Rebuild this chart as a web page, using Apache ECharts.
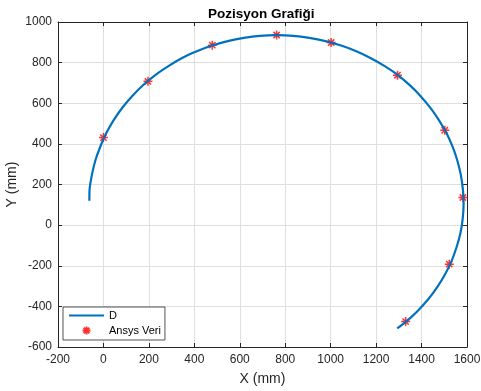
<!DOCTYPE html>
<html>
<head>
<meta charset="utf-8">
<script src="https://cdn.jsdelivr.net/npm/echarts@6/dist/echarts.min.js"></script>
<style>
  html, body { margin: 0; padding: 0; background: #fff; }
  #chart { width: 481px; height: 391px; }
</style>
</head>
<body>
<div id="chart"></div>
<script>
// curve "D" (x, y in mm)
const curveX = [-62, -61, -51, -36, -14, 12, 45, 83, 127, 175, 228, 286, 346, 411, 478, 547, 618, 689, 762,
  835, 906, 977, 1046, 1113, 1177, 1238, 1296, 1348, 1396, 1439, 1477, 1510, 1537, 1558, 1573, 1582, 1585,
  1581, 1571, 1554, 1532, 1503, 1469, 1430, 1385, 1336, 1293];
const curveY = [120, 175, 246, 317, 386, 452, 517, 578, 636, 690, 739, 783, 823, 856, 884, 906, 922, 932, 935,
  932, 922, 906, 884, 856, 822, 783, 739, 689, 635, 577, 516, 452, 385, 316, 246, 175, 103,
  31, -40, -109, -177, -243, -305, -364, -420, -471, -508];

// Ansys points
const ansysX = [0, 196, 479, 762, 1002, 1294, 1502, 1582, 1522, 1330];
const ansysY = [431, 708, 886, 936, 899, 738, 467, 136, -192, -475];

const xTicks = [-200, 0, 200, 400, 600, 800, 1000, 1200, 1400, 1600];
const yTicks = [-600, -400, -200, 0, 200, 400, 600, 800, 1000];

const axisColor = '#262626';
const font = 'Liberation Sans, Arial, Helvetica, sans-serif';
const asterisk = 'path://M0 5L10 5M5 0L5 10M1.5 1.5L8.5 8.5M8.5 1.5L1.5 8.5';
// legend icons: tiny corner marks keep the icon box 35x11
const lineIcon = 'path://M0 0L0.01 0M0 11L0.01 11M0 4.4H35V6.6H0Z';
const starIcon = 'path://M0 0L0.01 0M35 11L35.01 11M13.5 5.5H21.5M17.5 1.5V9.5M14.7 2.7L20.3 8.3M20.3 2.7L14.7 8.3';

const chart = echarts.init(document.getElementById('chart'), null, { renderer: 'canvas' });

function boxAxis(pos, min, max, step) {
  return {
    type: 'value', position: pos, min: min, max: max, interval: step,
    axisLine: { show: true, onZero: false, lineStyle: { color: axisColor, width: 1 } },
    axisTick: { show: true, inside: true, length: 4, lineStyle: { color: axisColor } },
    axisLabel: { show: false },
    splitLine: { show: false }
  };
}

chart.setOption({
  animation: false,
  title: {
    text: 'Pozisyon Grafiği', left: 203, top: 2,
    textStyle: { fontFamily: font, fontSize: 13.5, fontWeight: 'bold', color: '#000' }
  },
  grid: { left: 58, right: 14, top: 22, bottom: 44, outerBoundsMode: 'none', containLabel: false },
  legend: {
    left: 63, top: 307, orient: 'vertical',
    backgroundColor: '#fff', borderColor: axisColor, borderWidth: 0.8, borderRadius: 0,
    padding: [3, 4, 3, 5], itemGap: 3, itemWidth: 35, itemHeight: 11,
    textStyle: { fontFamily: font, fontSize: 11, color: '#000' },
    data: [{ name: 'D', icon: lineIcon }, { name: 'Ansys Veri', icon: starIcon }]
  },
  xAxis: [
    {
      type: 'value', position: 'bottom', min: xTicks[0], max: xTicks[xTicks.length - 1], interval: 200,
      name: 'X (mm)', nameLocation: 'middle', nameGap: 25,
      nameTextStyle: { fontFamily: font, fontSize: 14, color: axisColor },
      axisLine: { show: true, onZero: false, lineStyle: { color: axisColor, width: 1 } },
      axisTick: { show: true, inside: true, length: 4, lineStyle: { color: axisColor } },
      axisLabel: { fontFamily: font, fontSize: 12, color: axisColor, margin: 7, formatter: v => String(v) },
      splitLine: { show: true, lineStyle: { color: '#dfdfdf', width: 1 } }
    },
    boxAxis('top', xTicks[0], xTicks[xTicks.length - 1], 200)
  ],
  yAxis: [
    {
      type: 'value', position: 'left', min: yTicks[0], max: yTicks[yTicks.length - 1], interval: 200,
      name: 'Y (mm)', nameLocation: 'middle', nameGap: 39, nameMoveOverlap: false,
      nameTextStyle: { fontFamily: font, fontSize: 14, color: axisColor },
      axisLine: { show: true, onZero: false, lineStyle: { color: axisColor, width: 1 } },
      axisTick: { show: true, inside: true, length: 4, lineStyle: { color: axisColor } },
      axisLabel: { fontFamily: font, fontSize: 12, color: axisColor, margin: 6, formatter: v => String(v) },
      splitLine: { show: true, lineStyle: { color: '#dfdfdf', width: 1 } }
    },
    boxAxis('right', yTicks[0], yTicks[yTicks.length - 1], 200)
  ],
  series: [
    {
      name: 'D', type: 'line', smooth: 0.3, symbol: 'none',
      data: curveX.map((x, i) => [x, curveY[i]]),
      lineStyle: { color: '#0072BD', width: 2.2 },
      itemStyle: { color: '#0072BD' }
    },
    {
      name: 'Ansys Veri', type: 'scatter', symbol: asterisk, symbolSize: 9,
      data: ansysX.map((x, i) => [x, ansysY[i]]),
      itemStyle: { color: 'rgba(0,0,0,0)', borderColor: '#ff0000', borderWidth: 1.5 }
    }
  ]
});
</script>
</body>
</html>
